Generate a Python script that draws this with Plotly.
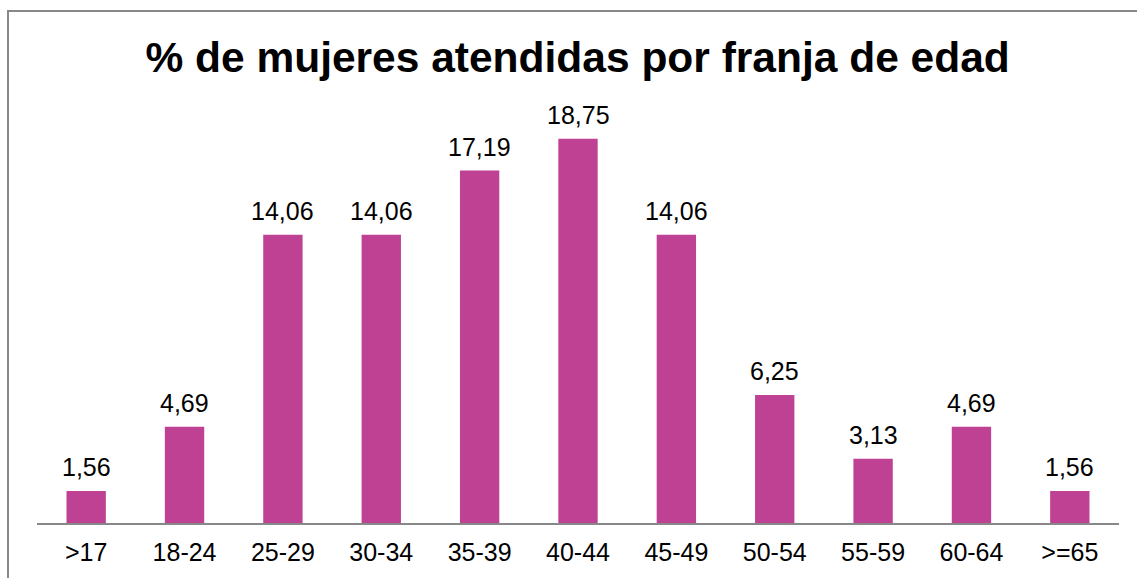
import plotly.graph_objects as go

# franjas de edad y porcentajes
franjas = [">17", "18-24", "25-29", "30-34", "35-39", "40-44",
           "45-49", "50-54", "55-59", "60-64", ">=65"]
porcentajes = [1.56, 4.69, 14.06, 14.06, 17.19, 18.75,
               14.06, 6.25, 3.13, 4.69, 1.56]

W, H = 1137, 578
L, R, T, B = 37, 18, 113, 55
FUENTE = "Liberation Sans, Arial"

fig = go.Figure()
fig.add_trace(go.Bar(
    x=franjas,
    y=porcentajes,
    marker=dict(color="#BE4193", line=dict(width=0)),
    hoverinfo="skip",
))

# etiquetas de datos encima de cada barra
for f, v in zip(franjas, porcentajes):
    fig.add_annotation(
        x=f, y=v, text=f"{v:.2f}".replace(".", ","),
        showarrow=False, yanchor="bottom", yshift=8,
        font=dict(family=FUENTE, size=25, color="#000000"),
    )

# marco del área del gráfico (px -> coordenadas paper)
pw, ph = W - L - R, H - T - B
fig.add_shape(
    type="rect", xref="paper", yref="paper",
    x0=(8 - L) / pw, x1=(W + 20 - L) / pw,
    y0=(H - B - (H + 20)) / ph, y1=(H - B - 11) / ph,
    line=dict(color="#888888", width=2), fillcolor="rgba(0,0,0,0)",
    layer="below",
)

fig.update_layout(
    width=W, height=H,
    margin=dict(l=L, r=R, t=T, b=B),
    paper_bgcolor="white", plot_bgcolor="white",
    bargap=0.6,
    showlegend=False,
    title=dict(
        text="<b>% de mujeres atendidas por franja de edad</b>",
        x=0.508, xanchor="center", y=1 - 57 / H, yanchor="middle",
        font=dict(family=FUENTE, size=42.5, color="#000000"),
    ),
    xaxis=dict(
        range=[-0.5, len(franjas) - 0.5],
        showline=True, linecolor="#888888", linewidth=2,
        ticks="", showgrid=False, ticklabelstandoff=6,
        tickfont=dict(family=FUENTE, size=25, color="#000000"),
    ),
    yaxis=dict(
        range=[0, 20], visible=False, showgrid=False, zeroline=False,
    ),
)

fig.write_html(
    "out.html",
    config=dict(displayModeBar=False),
    post_script="document.body.style.margin='0';",
)
